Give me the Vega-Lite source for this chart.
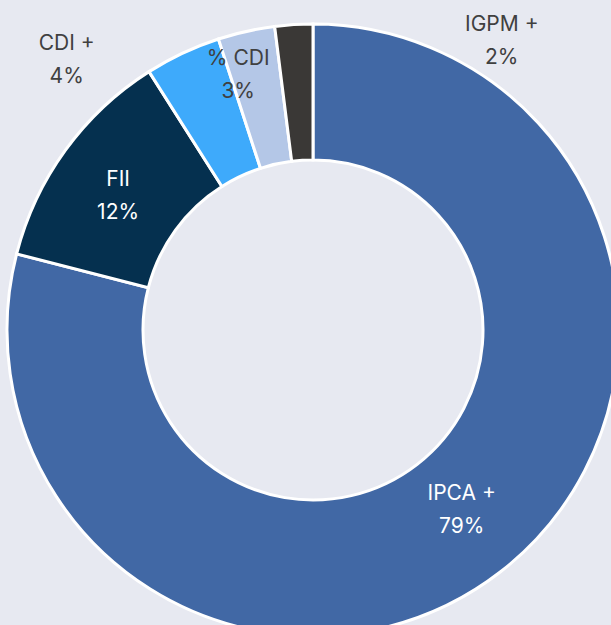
{
  "$schema": "https://vega.github.io/schema/vega-lite/v6.json",
  "width": 611,
  "height": 625,
  "autosize": {"type": "fit", "contains": "padding"},
  "padding": {"left": 15, "top": 31, "right": 0, "bottom": 0},
  "background": "#E7E9F1",
  "view": {"stroke": null},
  "config": {"text": {"font": "Inter", "fontSize": 21, "lineHeight": 33, "lineBreak": "\n"}},
  "data": {"values": [
    {"name": "IPCA +", "value": 79, "ord": 1},
    {"name": "FII", "value": 12, "ord": 2},
    {"name": "CDI +", "value": 4, "ord": 3},
    {"name": "% CDI", "value": 3, "ord": 4},
    {"name": "IGPM +", "value": 2, "ord": 5}
  ]},
  "transform": [
    {"stack": "value", "sort": [{"field": "ord"}], "groupby": [], "as": ["v0", "v1"]},
    {"calculate": "(datum.v0 + datum.v1) / 2", "as": "mid"},
    {"calculate": "datum.name + '\\n' + datum.value + '%'", "as": "label"}
  ],
  "layer": [
    {
      "mark": {"type": "arc", "outerRadius": 306, "innerRadius": 170, "stroke": "#FFFFFF", "strokeWidth": 3},
      "encoding": {
        "theta": {"field": "v0", "type": "quantitative", "scale": {"domain": [0, 100]}},
        "theta2": {"field": "v1"},
        "color": {"field": "name", "type": "nominal", "legend": null,
          "scale": {"domain": ["IPCA +", "FII", "CDI +", "% CDI", "IGPM +"],
                    "range": ["#4168A5", "#05304F", "#3EAAFB", "#B4C7E7", "#3A3836"]}}
      }
    },
    {
      "transform": [{"filter": "datum.name === 'IPCA +'"}],
      "mark": {"type": "text", "radius": 236, "dx": 4, "dy": -22, "color": "#FFFFFF"},
      "encoding": {"theta": {"field": "mid", "type": "quantitative", "scale": {"domain": [0, 100]}}, "text": {"field": "label"}}
    },
    {
      "transform": [{"filter": "datum.name === 'FII'"}],
      "mark": {"type": "text", "radius": 236, "dx": -4, "dy": -11, "color": "#FFFFFF"},
      "encoding": {"theta": {"field": "mid", "type": "quantitative", "scale": {"domain": [0, 100]}}, "text": {"field": "label"}}
    },
    {
      "transform": [{"filter": "datum.name === '% CDI'"}],
      "mark": {"type": "text", "radius": 265, "dx": -17, "dy": -12, "color": "#404040"},
      "encoding": {"theta": {"field": "mid", "type": "quantitative", "scale": {"domain": [0, 100]}}, "text": {"field": "label"}}
    },
    {
      "transform": [{"filter": "datum.name === 'CDI +'"}],
      "mark": {"type": "text", "radius": 306, "dx": -116, "dy": -9, "color": "#404040"},
      "encoding": {"theta": {"field": "mid", "type": "quantitative", "scale": {"domain": [0, 100]}}, "text": {"field": "label"}}
    },
    {
      "transform": [{"filter": "datum.name === 'IGPM +'"}],
      "mark": {"type": "text", "radius": 306, "dx": 208, "dy": 0, "color": "#404040"},
      "encoding": {"theta": {"field": "mid", "type": "quantitative", "scale": {"domain": [0, 100]}}, "text": {"field": "label"}}
    }
  ]
}
